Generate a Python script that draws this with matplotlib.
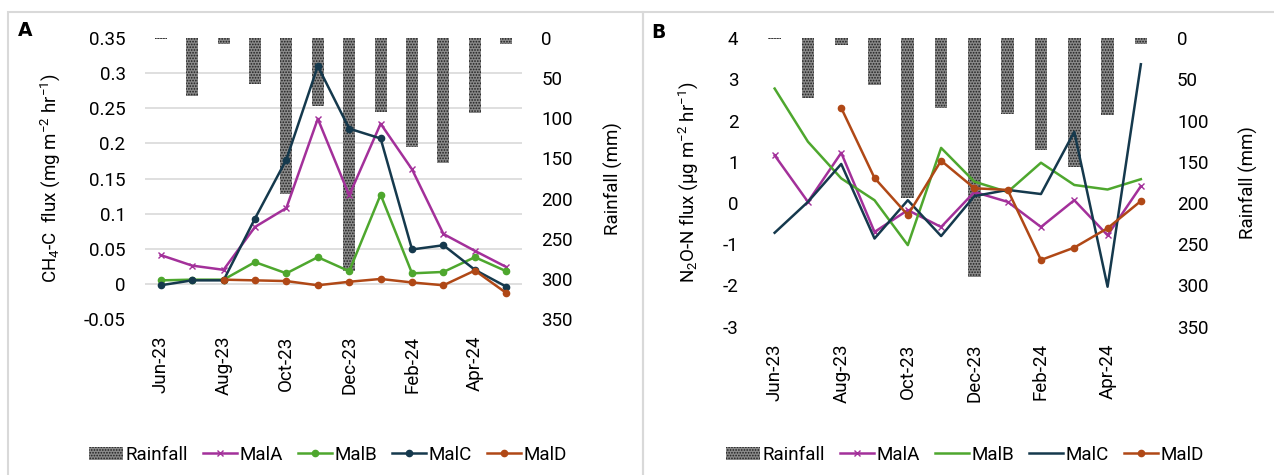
import matplotlib
matplotlib.use("Agg")
import matplotlib.pyplot as plt
from matplotlib.patches import Rectangle, Patch
from matplotlib.lines import Line2D
import numpy as np

plt.rcParams['font.family'] = ['Roboto', 'DejaVu Sans']
plt.rcParams['hatch.linewidth'] = 0.8
plt.rcParams['mathtext.fontset'] = 'custom'
plt.rcParams['mathtext.rm'] = 'Roboto'
plt.rcParams['mathtext.it'] = 'Roboto:italic'

months = ['Jun-23', 'Jul-23', 'Aug-23', 'Sep-23', 'Oct-23', 'Nov-23',
          'Dec-23', 'Jan-24', 'Feb-24', 'Mar-24', 'Apr-24', 'May-24']
rainfall = [1, 72, 8, 57, 194, 85, 290, 92, 136, 156, 93, 7]

# CH4-C flux (panel A)
ch4_malA = [0.041, 0.026, 0.020, 0.081, 0.108, 0.235, 0.126, 0.228, 0.163, 0.071, 0.047, 0.024]
ch4_malB = [0.005, 0.006, 0.006, 0.031, 0.015, 0.038, 0.018, 0.127, 0.015, 0.017, 0.038, 0.018]
ch4_malC = [-0.002, 0.005, 0.005, 0.093, 0.177, 0.310, 0.221, 0.207, 0.049, 0.055, 0.020, -0.004]
ch4_malD = [np.nan, np.nan, 0.006, 0.005, 0.004, -0.002, 0.003, 0.007, 0.002, -0.002, 0.019, -0.013]

# N2O-N flux (panel B)
n2o_malA = [1.16, 0.03, 1.22, -0.70, -0.17, -0.58, 0.27, 0.03, -0.58, 0.07, -0.78, 0.41]
n2o_malB = [2.78, 1.49, 0.60, 0.07, -1.02, 1.34, 0.52, 0.27, 0.98, 0.44, 0.33, 0.58]
n2o_malC = [-0.72, 0.03, 0.95, -0.86, 0.07, -0.80, 0.17, 0.32, 0.22, 1.73, -2.03, 3.37]
n2o_malD = [np.nan, np.nan, 2.31, 0.61, -0.29, 1.03, 0.36, 0.32, -1.38, -1.08, -0.61, 0.05]

col_a = '#a3309a'
col_b = '#4ea72e'
col_c = '#15394d'
col_d = '#b04816'
grid_col = '#d9d9d9'
bar_face = '#8a8a8a'
bar_dots = '#1e1e1e'
fs = 13.5

fig = plt.figure(figsize=(12.74, 4.75), dpi=100)

# panel frames
fig.add_artist(Rectangle((8 / 1274, -0.05), (643 - 8) / 1274, 1.05 - 12 / 475,
                         transform=fig.transFigure, fill=False, ec=grid_col, lw=1.5))
fig.add_artist(Rectangle((643 / 1274, -0.05), 0.6, 1.05 - 12 / 475,
                         transform=fig.transFigure, fill=False, ec=grid_col, lw=1.5))


def make_panel(rect, ylim, yticks, yfmt, ylabel, series, label, label_xy, legend_x):
    x = np.arange(len(months))
    ax = fig.add_axes(rect)
    ax2 = ax.twinx()
    ax.set_zorder(ax2.get_zorder() + 1)
    ax.patch.set_visible(False)

    # rainfall bars on the inverted right axis
    ax2.bar(x, rainfall, width=0.38, color=bar_face, hatch='......',
            edgecolor=bar_dots, lw=0, zorder=2)
    ax2.set_ylim(350, 0)
    ax2.set_yticks(range(0, 351, 50))
    # gridlines at the flux ticks, drawn on the rainfall axis so bars sit on top
    lo, hi = ylim
    grid_pos = [(hi - t) / (hi - lo) * 350 for t in yticks]
    ax2.set_yticks(grid_pos, minor=True)
    ax2.grid(which='minor', axis='y', color=grid_col, lw=1.2, zorder=0)
    ax2.tick_params(axis='y', which='both', length=0, labelsize=fs, pad=14)
    ax2.set_ylabel('Rainfall (mm)', fontsize=fs, labelpad=22)

    for vals, col, mk, ms in series:
        ax.plot(x, vals, color=col, lw=1.8, marker=mk, ms=ms, mew=1.0)

    ax.set_ylim(lo, hi)
    ax.set_yticks(yticks)
    ax.set_yticklabels([yfmt(t) for t in yticks])
    ax.set_xlim(-0.5, len(months) - 0.5)
    ax.set_xticks(x[::2])
    ax.set_xticklabels(months[::2], rotation=90)
    ax.tick_params(axis='both', length=0, labelsize=fs)
    ax.tick_params(axis='y', pad=14)
    ax.tick_params(axis='x', pad=12)
    ax.set_ylabel(ylabel, fontsize=fs, labelpad=16)

    for a in (ax, ax2):
        for s in a.spines.values():
            s.set_visible(False)

    fig.text(label_xy[0], label_xy[1], label, fontsize=13.5, fontweight='bold',
             family='DejaVu Sans', ha='center', va='center')

    handles = [Patch(facecolor=bar_face, hatch='......', edgecolor=bar_dots, lw=0, label='Rainfall')]
    for (vals, col, mk, ms), name in zip(series, ['MalA', 'MalB', 'MalC', 'MalD']):
        handles.append(Line2D([], [], color=col, lw=1.8, marker=mk, ms=ms, mew=1.0, label=name))
    fig.legend(handles=handles, loc='center', bbox_to_anchor=(legend_x, 0.042), ncol=5,
               frameon=False, fontsize=fs, handlelength=1.8, handletextpad=0.15,
               columnspacing=0.8, borderaxespad=0)
    return ax


def fmt_a(t):
    s = ('%.2f' % t).rstrip('0').rstrip('.')
    return s if s not in ('-0', '') else '0'


make_panel([145 / 1274, 1 - 319 / 475, 377 / 1274, 281 / 475],
           (-0.05, 0.35), [0.35, 0.3, 0.25, 0.2, 0.15, 0.1, 0.05, 0, -0.05], fmt_a,
           r'CH$_4$-C  flux (mg m$^{-2}$ hr$^{-1}$)',
           [(ch4_malA, col_a, 'x', 4), (ch4_malB, col_b, 'o', 4.5),
            (ch4_malC, col_c, 'o', 4.5), (ch4_malD, col_d, 'o', 4.5)],
           'A', (25 / 1274, 1 - 30 / 475), 328 / 1274)

make_panel([758 / 1274, 1 - 326.7 / 475, 399.5 / 1274, 288.4 / 475],
           (-3, 4), [4, 3, 2, 1, 0, -1, -2, -3], lambda t: '%d' % t,
           r'N$_2$O-N flux (µg m$^{-2}$ hr$^{-1}$)',
           [(n2o_malA, col_a, 'x', 4), (n2o_malB, col_b, None, 4.5),
            (n2o_malC, col_c, None, 4.5), (n2o_malD, col_d, 'o', 4.5)],
           'B', (658 / 1274, 1 - 32 / 475), 965 / 1274)

fig.savefig('out.png', dpi=100)
